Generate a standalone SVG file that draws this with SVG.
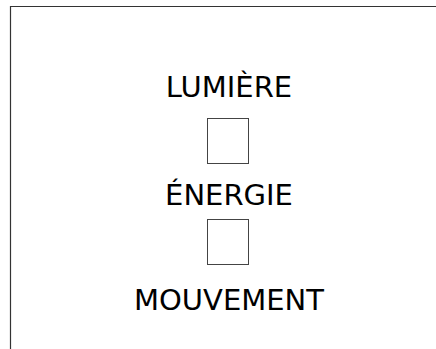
<svg xmlns="http://www.w3.org/2000/svg" width="436" height="349" viewBox="0 0 436 349">
<style>
.t{font-family:"DejaVu Sans",Verdana,sans-serif;font-size:29px;fill:#000;text-anchor:middle}
.b{fill:#fff;stroke:#444;stroke-width:1}
</style>
<rect width="436" height="349" fill="#fff"/>
<path d="M10.5,360 V6.5 H440" fill="none" stroke="#333" stroke-width="1.2"/>
<g id="lumiere"><text class="t" x="229" y="97">LUMIÈRE</text></g>
<g id="box1"><rect class="b" x="207.5" y="118.5" width="41" height="45"/></g>
<g id="energie"><text class="t" x="229" y="205">ÉNERGIE</text></g>
<g id="box2"><rect class="b" x="207.5" y="219.5" width="41" height="45"/></g>
<g id="mouvement"><text class="t" x="229" y="310">MOUVEMENT</text></g>
<g id="connectors"></g>
</svg>
